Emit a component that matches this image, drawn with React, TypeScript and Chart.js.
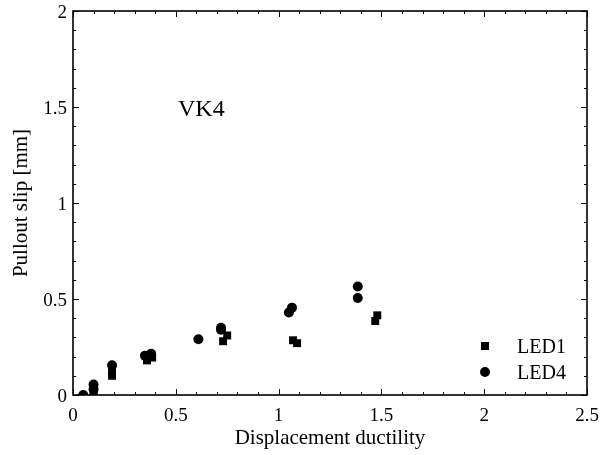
import React, { useEffect, useRef } from "react";
import { Chart, registerables } from "chart.js";

Chart.register(...registerables);

const led1X = [0.1, 0.1, 0.19, 0.19, 0.36, 0.385, 0.73, 0.75, 1.07, 1.09, 1.47, 1.48];
const led1Y = [0.01, 0.02, 0.1, 0.12, 0.18, 0.195, 0.28, 0.31, 0.285, 0.27, 0.385, 0.415];
const led4X = [0.05, 0.1, 0.1, 0.19, 0.35, 0.38, 0.61, 0.72, 0.72, 1.05, 1.065, 1.385, 1.385];
const led4Y = [0.0, 0.03, 0.055, 0.155, 0.205, 0.215, 0.29, 0.34, 0.35, 0.43, 0.455, 0.505, 0.565];
const seriesNames = ["LED1", "LED4"];
const xTicks = [0, 0.5, 1, 1.5, 2, 2.5];
const yTicks = [0, 0.5, 1, 1.5, 2];
const xTitle = "Displacement ductility";
const yTitle = "Pullout slip [mm]";
const annotation = "VK4";

const FONT = '"Liberation Serif", "Times New Roman", serif';

const framePlugin = {
  id: "frame",
  afterDraw(chart: any) {
    const { ctx, chartArea, scales } = chart;
    const { left, right, top, bottom } = chartArea;
    const x = scales.x;
    const y = scales.y;
    ctx.save();
    ctx.strokeStyle = "#000";
    ctx.lineWidth = 1.6;
    ctx.strokeRect(left, top, right - left, bottom - top);
    ctx.lineWidth = 1;
    ctx.beginPath();
    for (let i = 0; i <= 25; i++) {
      const v = i / 10;
      const px = Math.round(x.getPixelForValue(v)) + 0.5;
      const len = i % 5 === 0 ? 6 : 3;
      ctx.moveTo(px, bottom);
      ctx.lineTo(px, bottom - len);
      ctx.moveTo(px, top);
      ctx.lineTo(px, top + len);
    }
    for (let i = 0; i <= 20; i++) {
      const v = i / 10;
      const py = Math.round(y.getPixelForValue(v)) + 0.5;
      const len = i % 5 === 0 ? 6 : 3;
      ctx.moveTo(left, py);
      ctx.lineTo(left + len, py);
      ctx.moveTo(right, py);
      ctx.lineTo(right - len, py);
    }
    ctx.stroke();

    ctx.fillStyle = "#000";
    // tick labels
    ctx.font = `19px ${FONT}`;
    ctx.textBaseline = "alphabetic";
    ctx.textAlign = "center";
    xTicks.forEach((v) => {
      ctx.fillText(String(v), x.getPixelForValue(v), bottom + 26);
    });
    ctx.textAlign = "right";
    yTicks.forEach((v) => {
      ctx.fillText(String(v), left - 6, y.getPixelForValue(v) + 6.5);
    });

    // axis titles
    ctx.font = `21px ${FONT}`;
    ctx.textAlign = "center";
    ctx.fillText(xTitle, (left + right) / 2, 444);
    ctx.save();
    ctx.translate(27, (top + bottom) / 2);
    ctx.rotate(-Math.PI / 2);
    ctx.fillText(yTitle, 0, 0);
    ctx.restore();

    // annotation
    ctx.font = `24px ${FONT}`;
    ctx.textAlign = "left";
    ctx.fillText(annotation, 178, 116);

    // legend
    ctx.font = `20px ${FONT}`;
    const lx = 485;
    const rows = [346, 372];
    ctx.fillRect(lx - 4, rows[0] - 4, 8, 8);
    ctx.beginPath();
    ctx.arc(lx, rows[1], 5, 0, Math.PI * 2);
    ctx.fill();
    ctx.fillText(seriesNames[0], 517, rows[0] + 7);
    ctx.fillText(seriesNames[1], 517, rows[1] + 7);
    ctx.restore();
  },
};

export default function App() {
  const ref = useRef<HTMLCanvasElement>(null);
  useEffect(() => {
    document.body.style.margin = "0";
    const canvas = ref.current!;
    const chart = new Chart(canvas, {
      type: "scatter",
      data: {
        datasets: [
          {
            label: seriesNames[0],
            data: led1X.map((v, i) => ({ x: v, y: led1Y[i] })),
            pointStyle: "rect",
            pointRadius: 5.6,
            pointHoverRadius: 5.6,
            backgroundColor: "#000",
            borderColor: "#000",
            borderWidth: 0,
          },
          {
            label: seriesNames[1],
            data: led4X.map((v, i) => ({ x: v, y: led4Y[i] })),
            pointStyle: "circle",
            pointRadius: 5,
            pointHoverRadius: 5,
            backgroundColor: "#000",
            borderColor: "#000",
            borderWidth: 0,
          },
        ],
      },
      options: {
        responsive: false,
        animation: false,
        events: [],
        layout: { padding: { top: 11, right: 13, left: 73, bottom: 60 } },
        plugins: { legend: { display: false }, tooltip: { enabled: false } },
        scales: {
          x: { type: "linear", min: 0, max: 2.5, display: false },
          y: { type: "linear", min: 0, max: 2, display: false },
        },
      },
      plugins: [framePlugin],
    });
    return () => chart.destroy();
  }, []);
  return (
    <div style={{ position: "absolute", left: 0, top: 0, width: 600, height: 455 }}>
      <canvas ref={ref} width={600} height={455} />
    </div>
  );
}
